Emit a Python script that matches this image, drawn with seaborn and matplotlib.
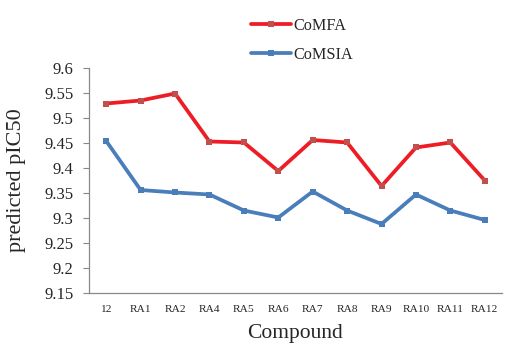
import matplotlib
matplotlib.use("Agg")
import matplotlib.pyplot as plt
import seaborn as sns
import pandas as pd

compounds = ["12", "RA1", "RA2", "RA4", "RA5", "RA6", "RA7", "RA8", "RA9", "RA10", "RA11", "RA12"]
comfa = [9.529, 9.535, 9.549, 9.453, 9.451, 9.394, 9.456, 9.451, 9.364, 9.441, 9.451, 9.375]
comsia = [9.454, 9.356, 9.351, 9.347, 9.315, 9.301, 9.353, 9.315, 9.288, 9.347, 9.315, 9.296]
yticks = [9.15, 9.2, 9.25, 9.3, 9.35, 9.4, 9.45, 9.5, 9.55, 9.6]

df = pd.DataFrame({
    "Compound": compounds * 2,
    "pIC50": comfa + comsia,
    "Model": ["CoMFA"] * len(compounds) + ["CoMSIA"] * len(compounds),
})

sns.set_theme(style="white")
plt.rcParams["font.family"] = ["Liberation Serif", "DejaVu Serif"]

fig = plt.figure(figsize=(5.15, 3.49), dpi=100)
ax = fig.add_axes([89 / 515, 1 - 293 / 349, 413 / 515, 225 / 349])

palette = {"CoMFA": "#EE1C25", "CoMSIA": "#4A7EBB"}
sns.lineplot(data=df, x="Compound", y="pIC50", hue="Model", palette=palette,
             sort=False, linewidth=2.7, marker="s", markersize=4.8,
             markeredgewidth=0, ax=ax, legend=False)
# darker square markers on the CoMFA line
ax.lines[0].set_markerfacecolor("#C0504D")

ax.set_xlim(-0.5, len(compounds) - 0.5)
ax.set_ylim(9.15, 9.6)
ax.set_yticks(yticks)
ax.set_yticklabels([f"{t:g}" for t in yticks], fontsize=12)
ax.set_xticks(range(len(compounds)))
ax.set_xticklabels(compounds, fontsize=8.2)
ax.tick_params(axis="y", which="both", left=True, length=4.3, width=0.8,
               color="#888888", pad=7)
ax.tick_params(axis="x", bottom=False, pad=3)

for side in ("top", "right"):
    ax.spines[side].set_visible(False)
for side in ("left", "bottom"):
    ax.spines[side].set_color("#888888")
    ax.spines[side].set_linewidth(0.9)

ax.set_xlabel("Compound", fontsize=15.5, labelpad=7)
ax.set_ylabel("predicted pIC50", fontsize=16)
ax.yaxis.set_label_coords(-63 / 413, 0.5)

handles = [
    plt.Line2D([], [], color=palette["CoMFA"], lw=2.7, marker="s",
               markersize=4, markerfacecolor="#C0504D", markeredgewidth=0),
    plt.Line2D([], [], color=palette["CoMSIA"], lw=2.7, marker="s",
               markersize=4, markeredgewidth=0),
]
fig.legend(handles, ["CoMFA", "CoMSIA"], loc="upper left",
           bbox_to_anchor=(236 / 515, 1 - 3 / 349), frameon=False,
           fontsize=11.7, handlelength=2.5, handletextpad=0.15,
           labelspacing=0.8)

fig.savefig("out.png", dpi=100)
